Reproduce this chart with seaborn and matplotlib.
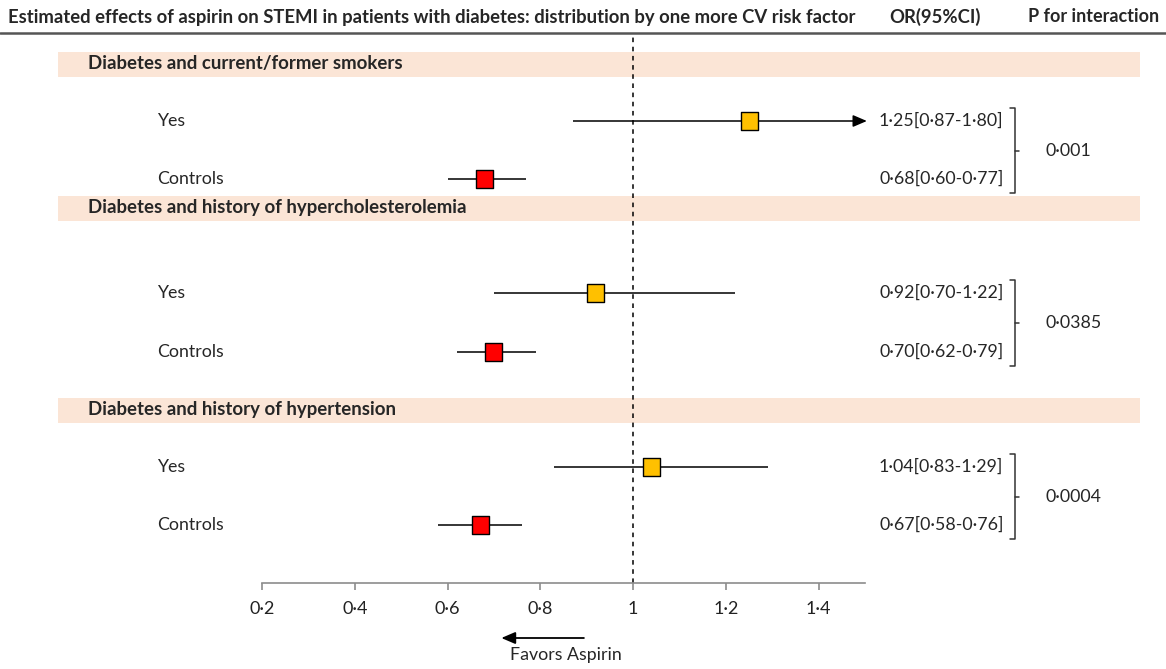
import numpy as np
import pandas as pd
import seaborn as sns
import matplotlib
matplotlib.use("Agg")
import matplotlib.pyplot as plt
from matplotlib.ticker import FuncFormatter, FixedLocator
from matplotlib.transforms import blended_transform_factory
from matplotlib.lines import Line2D
from matplotlib.patches import Rectangle

# ---- data ----
groups = ["Diabetes and current/former smokers",
          "Diabetes and history of hypercholesterolemia",
          "Diabetes and history of hypertension"]
subgroups = ["Yes", "Controls"]
or_vals = [1.25, 0.68, 0.92, 0.70, 1.04, 0.67]
ci_low = [0.87, 0.60, 0.70, 0.62, 0.83, 0.58]
ci_high = [1.80, 0.77, 1.22, 0.79, 1.29, 0.76]
p_inter = ["0·001", "0·0385", "0·0004"]
x_ticks = [0.2, 0.4, 0.6, 0.8, 1.0, 1.2, 1.4]
title = "Estimated effects of aspirin on STEMI in patients with diabetes: distribution by one more CV risk factor"

# ---- layout (pixel rows) ----
W, H = 1166, 669
band_y = [64, 208, 410]
row_y = [121, 179, 293, 352, 467, 525]
xmin, xmax = 0.2, 1.5

sns.set_theme(style="white")
plt.rcParams["font.family"] = ["Lato", "DejaVu Sans"]

fig = plt.figure(figsize=(W / 100, H / 100), dpi=100)
ax_l, ax_r, ax_t, ax_b = 262, 865, 33, 583
ax = fig.add_axes([ax_l / W, (H - ax_b) / H, (ax_r - ax_l) / W, (ax_b - ax_t) / H])
ax.set_xlim(xmin, xmax)
ax.set_ylim(ax_b, ax_t)
ax.patch.set_alpha(0)
for s in ["top", "right", "left"]:
    ax.spines[s].set_visible(False)
ax.spines["bottom"].set_color("#8c8c8c")
ax.spines["bottom"].set_linewidth(1.2)
ax.xaxis.set_major_locator(FixedLocator(x_ticks))
ax.xaxis.set_major_formatter(FuncFormatter(lambda v, p: f"{v:g}".replace(".", "·")))
ax.tick_params(axis="x", bottom=True, direction="out", length=5, width=1.2,
               color="#8c8c8c", labelsize=13, labelcolor="#222222", pad=8)
ax.set_yticks([])

figx = blended_transform_factory(fig.transFigure, ax.transData)

# header
fig.text(8 / W, 1 - 17 / H, title, ha="left", va="center", fontsize=13.3, fontweight="bold")
fig.text(935 / W, 1 - 17 / H, "OR(95%CI)", ha="center", va="center", fontsize=13.3, fontweight="bold")
fig.text(1094 / W, 1 - 17 / H, "P for interaction", ha="center", va="center", fontsize=13, fontweight="bold")
fig.add_artist(Line2D([0, 1], [1 - 33 / H, 1 - 33 / H], transform=fig.transFigure,
                      color="#555555", lw=1.8))

# reference line
ax.axvline(1.0, color="black", lw=1.1, ls=(0, (3, 3)), zorder=1)

# group bands
for g, by in zip(groups, band_y):
    ax.add_patch(Rectangle((58 / W, by - 12.5), (1140 - 58) / W, 25, transform=figx,
                           facecolor="#FBE5D6", edgecolor="none", clip_on=False, zorder=0))
    ax.text(88 / W, by, g, transform=figx, ha="left", va="center",
            fontsize=13.4, fontweight="bold", clip_on=False)

# data frame
df = pd.DataFrame({
    "OR": or_vals, "lo": ci_low, "hi": ci_high, "y": row_y,
    "sub": subgroups * len(groups),
})

# CI lines
for _, r in df.iterrows():
    right = min(r["hi"], xmax)
    ax.hlines(r["y"], r["lo"], right, color="black", lw=1.1, zorder=2)
    if r["hi"] > xmax:
        ax.annotate("", xy=(xmax + 0.01, r["y"]), xytext=(xmax - 0.03, r["y"]),
                    arrowprops=dict(arrowstyle="-|>,head_length=0.7,head_width=0.3",
                                    color="black", lw=1.1), annotation_clip=False)

sns.scatterplot(data=df, x="OR", y="y", hue="sub",
                palette={"Yes": "#FFC000", "Controls": "#FF0000"},
                marker="s", s=150, edgecolor="black", linewidth=1.0,
                legend=False, ax=ax, zorder=3, clip_on=False)
ax.set_xlabel("")
ax.set_ylabel("")

# row labels and OR text
for i, r in df.iterrows():
    ax.text(157 / W, r["y"], r["sub"], transform=figx, ha="left", va="center", fontsize=12.8)
    txt = f"{r['OR']:.2f}[{r['lo']:.2f}-{r['hi']:.2f}]".replace(".", "·")
    ax.text(879 / W, r["y"], txt, transform=figx, ha="left", va="center", fontsize=12.8)

# brackets and p values
for gi in range(len(groups)):
    y1 = row_y[2 * gi] - 13
    y2 = row_y[2 * gi + 1] + 14
    ym = (y1 + y2) / 2
    bx = 1015 / W
    ax.plot([bx - 5 / W, bx, bx, bx - 5 / W], [y1, y1, y2, y2], transform=figx,
            color="#333333", lw=1.1, clip_on=False)
    ax.plot([bx, bx + 4 / W], [ym, ym], transform=figx, color="#333333", lw=1.1, clip_on=False)
    ax.text(1045 / W, ym, p_inter[gi], transform=figx, ha="left", va="center", fontsize=12.8)

# favors aspirin arrow
ax.annotate("", xy=(0.71, 638), xytext=(0.9, 638),
            arrowprops=dict(arrowstyle="-|>,head_length=0.7,head_width=0.3", color="black", lw=1.3),
            annotation_clip=False)
ax.text(0.855, 655, "Favors Aspirin", ha="center", va="center", fontsize=12.8, clip_on=False)

fig.savefig("out.png", dpi=100)
